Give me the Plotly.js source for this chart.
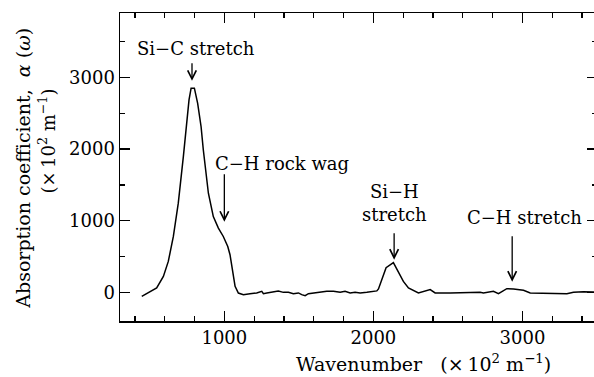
<!DOCTYPE html>
<html>
<head>
<meta charset="utf-8">
<script src="https://cdn.plot.ly/plotly-3.0.1.min.js"></script>
<style>
  html, body { margin: 0; padding: 0; overflow: hidden; background: #fff; }
  #chart { width: 598px; height: 377px; }
</style>
</head>
<body>
<div id="chart"></div>
<script>
// Wavenumber (x10^2 m^-1)
const wavenumber = [446, 490, 546, 591, 624, 658, 691, 725, 748, 763, 777, 799, 821, 844, 859, 875, 893, 926, 960, 993,
  1023, 1038, 1054, 1072, 1094, 1105, 1128, 1172, 1217, 1251, 1262, 1285, 1318, 1362, 1396, 1430, 1463, 1497, 1519, 1542,
  1564, 1597, 1642, 1687, 1732, 1777, 1810, 1844, 1877, 1911, 1956, 1989, 2023, 2034, 2060, 2085, 2134, 2201, 2235, 2302,
  2381, 2414, 2515, 2649, 2716, 2738, 2805, 2839, 2895, 2940, 3007, 3052, 3141, 3298, 3342, 3409, 3477, 3500];
// Absorption coefficient alpha(omega) (x10^2 m^-1)
const absorption = [-56, -8, 61, 223, 432, 780, 1245, 1894, 2405, 2686, 2850, 2850, 2638, 2312, 1988, 1663, 1384, 1058, 897, 780,
  641, 525, 316, 84, -10, -18, -32, -18, -8, 14, -18, -8, 0, 20, 0, 0, -18, -8, -32, -46,
  -18, -8, 0, 14, 14, 0, 14, -8, 0, -8, 0, 14, 20, 47, 200, 345, 415, 153, 61, -8,
  38, -8, -8, 0, 0, -8, 14, -18, 51, 47, 28, -8, -8, -18, 0, 10, 6, 6];

const xTickVals = [1000, 2000, 3000];
const yTickVals = [0, 1000, 2000, 3000];

// Peak labels: text, label position, arrow head position
const peakLabels = ["Si\u2212C stretch", "C\u2212H rock wag", "Si\u2212H<br>stretch", "C\u2212H stretch"];
const labelX = [810, 1387, 2139, 3011];
const labelY = [3410, 1805, 1250, 1040];
const arrowX = [783, 1000, 2139, 2931];
const arrowY = [2953, 986, 456, 149];
const arrowLen = [19, 49, 28, 47];

const FONT = "DejaVu Serif";
const FS = 18;
const FS_TITLE = 19;

const annotations = [];
for (let i = 0; i < peakLabels.length; i++) {
  annotations.push({
    x: labelX[i], y: labelY[i], xref: 'x', yref: 'y',
    text: peakLabels[i], showarrow: false,
    xanchor: 'center', yanchor: 'middle',
    font: {family: FONT, size: FS, color: '#000'}
  });
  annotations.push({
    x: arrowX[i], y: arrowY[i], xref: 'x', yref: 'y',
    text: '', showarrow: true, ax: 0, ay: -arrowLen[i],
    arrowhead: 5, arrowsize: 1.3, arrowwidth: 1.3, arrowcolor: '#000', standoff: 0
  });
}
// Axis titles
annotations.push({
  xref: 'paper', yref: 'paper', x: -0.205, y: 0.495,
  text: "Absorption coefficient,\u00a0\u00a0<i>\u03b1</i>\u00a0(<i>\u03c9</i>)",
  textangle: -90, showarrow: false, xanchor: 'center', yanchor: 'middle',
  font: {family: FONT, size: FS_TITLE, color: '#000'}
});
annotations.push({
  xref: 'paper', yref: 'paper', x: -0.152, y: 0.584,
  text: "(\u00d7\u200910<sup>2</sup>\u00a0m<sup>\u22121</sup>)",
  textangle: -90, showarrow: false, xanchor: 'center', yanchor: 'middle',
  font: {family: FONT, size: FS, color: '#000'}
});
annotations.push({
  xref: 'paper', yref: 'paper', x: 0.637, y: -0.135,
  text: "Wavenumber\u00a0\u00a0\u00a0(\u00d7\u200910<sup>2</sup>\u00a0m<sup>\u22121</sup>)",
  showarrow: false, xanchor: 'center', yanchor: 'middle',
  font: {family: FONT, size: FS_TITLE, color: '#000'}
});

const trace = {
  x: wavenumber, y: absorption, type: 'scatter', mode: 'lines',
  line: {color: '#000', width: 1.5}, hoverinfo: 'skip'
};

const axisCommon = {
  showgrid: false, zeroline: false, showline: true, linecolor: '#000', linewidth: 1.5,
  mirror: 'ticks', ticks: 'inside', ticklen: 10, tickwidth: 1.3, tickcolor: '#000',
  tickfont: {family: FONT, size: FS, color: '#000'}, fixedrange: true
};

const layout = {
  width: 598, height: 377,
  margin: {l: 120, r: 1, t: 13, b: 55.6},
  paper_bgcolor: '#fff', plot_bgcolor: '#fff',
  showlegend: false,
  font: {family: FONT, size: FS, color: '#000'},
  xaxis: Object.assign({}, axisCommon, {
    range: [300, 3500], tickmode: 'array', tickvals: xTickVals,
    minor: {dtick: 200, tick0: 0, ticks: 'inside', ticklen: 5, tickwidth: 1.2, tickcolor: '#000'}
  }),
  yaxis: Object.assign({}, axisCommon, {
    range: [-400, 3900], tickmode: 'array', tickvals: yTickVals,
    minor: {dtick: 500, tick0: 0, ticks: 'inside', ticklen: 5, tickwidth: 1.2, tickcolor: '#000'}
  }),
  annotations: annotations
};

Plotly.newPlot('chart', [trace], layout, {displayModeBar: false, staticPlot: true});
</script>
</body>
</html>
